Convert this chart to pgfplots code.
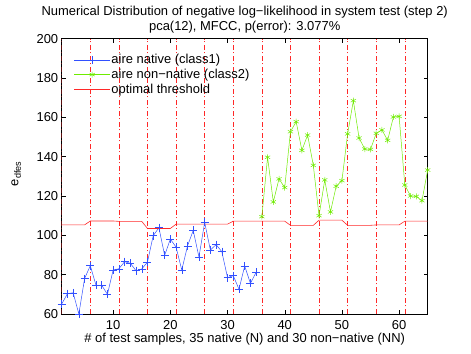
\documentclass[border=0pt]{standalone}
\usepackage{fontspec}
\setmainfont{Liberation Sans}
\usepackage{pgfplots}
\pgfplotsset{compat=1.18}
\definecolor{mblue}{RGB}{50,80,255}
\definecolor{mgreen}{RGB}{110,235,0}
\definecolor{mred}{RGB}{255,40,40}
\begin{document}
\begin{tikzpicture}
\path[use as bounding box] (-61.7bp,-40bp) rectangle (409.3bp,314bp);
\begin{axis}[
  scale only axis, width=366bp, height=275.3bp,
  xmin=1, xmax=65, ymin=60, ymax=200,
  xtick={10,20,...,60}, ytick={60,80,...,200},
  tick align=inside, major tick length=4bp,
  tick style={black, line width=0.4pt},
  axis line style={black, line width=0.5pt},
  font=\fontsize{13}{15}\selectfont,
  /pgf/number format/assume math mode=true,
  xticklabel style={yshift=-3bp},
  title={Numerical Distribution of negative log−likelihood in system test (step 2)\\pca(12), MFCC, p(error): 3.077\%},
  title style={align=center, font=\fontsize{13}{15}\selectfont, at={(0.5,1)}, anchor=south, yshift=-3.5bp},
  xlabel={\# of test samples, 35 native (N) and 30 non−native (NN)},
  xlabel style={font=\fontsize{13}{15}\selectfont, yshift=3bp},
  ylabel={e\textsubscript{dfes}},
  ylabel style={font=\fontsize{13}{15}\selectfont, at={(axis description cs:-0.102,0.51)}, anchor=south},
  legend style={draw=none, fill=none, at={(0.0,1)}, anchor=north west,
    xshift=9bp, yshift=-12.7bp,
    font=\fontsize{13}{15}\selectfont, row sep=1.7bp,
    nodes={inner sep=1bp}},
  legend cell align=left,
  legend image code/.code={\draw[mark repeat=2,mark phase=2] plot coordinates {(0bp,0bp) (18bp,0bp) (36bp,0bp)};},
]
\pgfplotsinvokeforeach{1,6,11,16,21,26,31,36,41,46,51,56,61}{
  \addplot[mred, line width=0.5pt, dash pattern=on 5bp off 2.5bp on 1bp off 2.5bp, forget plot] coordinates {(#1,60) (#1,200)};
}
\addplot[mblue, line width=0.5pt, mark=+, mark size=4bp, mark options={line width=0.5pt}] coordinates {
(1,65.1) (2,70.3) (3,70.8) (4,60.0) (5,78.0) (6,84.6) (7,74.6) (8,74.6) (9,70.0) (10,82.4)
(11,83.0) (12,86.6) (13,85.8) (14,82.0) (15,82.9) (16,86.4) (17,99.8) (18,103.9) (19,89.8) (20,98.1)
(21,94.0) (22,82.4) (23,94.6) (24,102.5) (25,89.0) (26,106.6) (27,92.5) (28,95.3) (29,91.7) (30,78.5)
(31,79.5) (32,72.6) (33,84.4) (34,75.6) (35,81.2)};
\addlegendentry{aire native (class1)}
\addplot[mgreen, line width=0.5pt, mark=asterisk, mark size=3bp, mark options={line width=0.5pt}] coordinates {
(36,109.5) (37,139.7) (38,117.0) (39,128.7) (40,124.3) (41,152.7) (42,157.8) (43,143.2) (44,151.0) (45,135.6)
(46,110.0) (47,128.2) (48,111.9) (49,125.0) (50,127.8) (51,151.6) (52,168.5) (53,149.5) (54,143.9) (55,143.7)
(56,151.9) (57,153.6) (58,148.3) (59,160.2) (60,160.5) (61,125.6) (62,120.0) (63,119.8) (64,117.6) (65,133.2)};
\addlegendentry{aire non−native (class2)}
\addplot[mred, line width=0.6pt] coordinates {
(1,105.3) (5,105.3) (6,107.3) (10,107.3) (11,107.1) (15,107.1) (16,103.5) (20,103.5)
(21,105.7) (30,105.7) (31,107.2) (40,107.2) (41,105.1) (45,105.1) (46,107.7) (50,107.7)
(51,105.1) (55,105.1) (56,105.3) (60,105.3) (61,107.2) (65,107.2)};
\addlegendentry{optimal threshold}
\end{axis}
\end{tikzpicture}
\end{document}
